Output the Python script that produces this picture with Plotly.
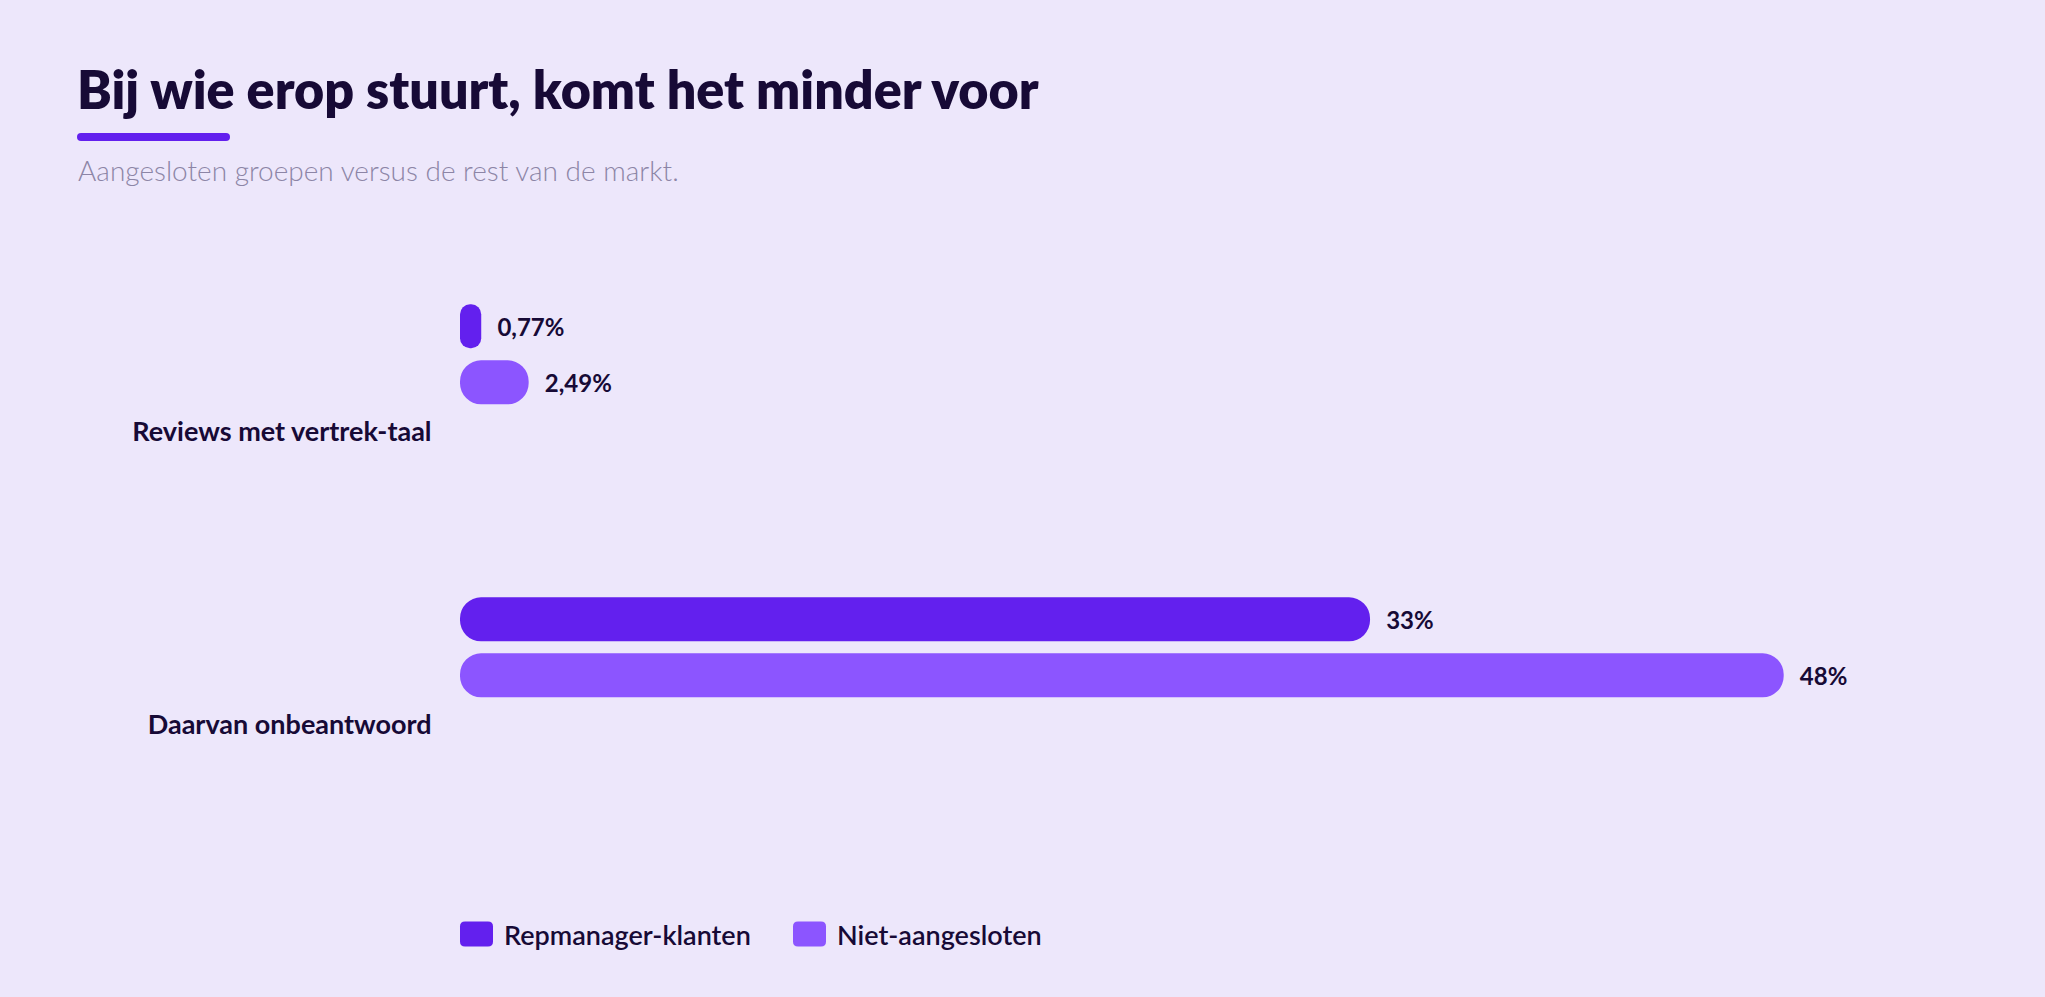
import plotly.graph_objects as go

# ---------------- data ----------------
categories = ["Reviews met vertrek-taal", "Daarvan onbeantwoord"]
series_names = ["Repmanager-klanten", "Niet-aangesloten"]
repmanager = [0.77, 33]
niet_aangesloten = [2.49, 48]
title_text = "Bij wie erop stuurt, komt het minder voor"
subtitle_text = "Aangesloten groepen versus de rest van de markt."

# ---------------- style ----------------
W, H = 2045, 997
BG = "#EDE7FB"
INK = "#170A36"
SUB = "#8C85A6"
COLORS = ["#6320EE", "#8C55FF"]
FONT = "Lato"

ML, MR, MT, MB = 460, 151, 256, 155
PW, PH = W - ML - MR, H - MT - MB
X_MAX = 52
Y_RANGE = [1.4, -0.6]   # reversed category axis
BAR_W = 0.150
OFFSETS = [-0.435, -0.244]


def px_x(px):
    return (px - ML) / PW


def px_y(py):
    return (H - MB - py) / PH


def fmt(v):
    return ("%g" % v).replace(".", ",") + "%"


def pill(w, h, r):
    hh = h / 2
    return (f"M{r},{-hh} H{w - r} Q{w},{-hh} {w},{-hh + r} V{hh - r} "
            f"Q{w},{hh} {w - r},{hh} H{r} Q0,{hh} 0,{hh - r} V{-hh + r} "
            f"Q0,{-hh} {r},{-hh} Z")


fig = go.Figure()
for name, vals, col, off in zip(series_names, [repmanager, niet_aangesloten], COLORS, OFFSETS):
    fig.add_trace(go.Bar(
        y=categories, x=vals, base=[0] * len(vals), orientation="h",
        offset=off, width=BAR_W, name=name,
        marker=dict(color=col, cornerradius="50%", line=dict(width=0)),
        text=["\u00a0\u00a0\u200a" + fmt(v) for v in vals],
        textposition="outside", constraintext="none", cliponaxis=False,
        textfont=dict(family=FONT, size=24, color=INK, weight=700),
        hovertemplate="%{y}<br>" + name + ": %{x}%<extra></extra>",
        showlegend=False,
    ))

shapes = []
annotations = []

# title + underline + subtitle
annotations.append(dict(text=title_text, x=px_x(75), y=px_y(89), xref="paper", yref="paper",
                        xanchor="left", yanchor="middle", showarrow=False,
                        font=dict(family=FONT, size=52, color=INK, weight=800)))
shapes.append(dict(type="path", xref="paper", yref="paper", xsizemode="pixel", ysizemode="pixel",
                   xanchor=px_x(77), yanchor=px_y(137), path=pill(153, 8, 4),
                   fillcolor=COLORS[0], line=dict(width=0)))
annotations.append(dict(text=subtitle_text, x=px_x(76), y=px_y(170), xref="paper", yref="paper",
                        xanchor="left", yanchor="middle", showarrow=False,
                        font=dict(family=FONT, size=28, color=SUB, weight=300)))

# custom legend
legend_x = [460, 793]
for name, col, lx in zip(series_names, COLORS, legend_x):
    shapes.append(dict(type="path", xref="paper", yref="paper", xsizemode="pixel", ysizemode="pixel",
                       xanchor=px_x(lx), yanchor=px_y(934), path=pill(33, 25, 5),
                       fillcolor=col, line=dict(width=0)))
    annotations.append(dict(text=name, x=px_x(lx + 42), y=px_y(934), xref="paper", yref="paper",
                            xanchor="left", yanchor="middle", showarrow=False,
                            font=dict(family=FONT, size=27, color=INK, weight=600)))

fig.update_layout(
    width=W, height=H, autosize=False,
    margin=dict(l=ML, r=MR, t=MT, b=MB, pad=0),
    paper_bgcolor=BG, plot_bgcolor=BG,
    barmode="overlay", showlegend=False,
    font=dict(family=FONT, color=INK),
    shapes=shapes, annotations=annotations,
    xaxis=dict(range=[0, X_MAX], visible=False, fixedrange=True),
    yaxis=dict(type="category", categoryorder="array", categoryarray=categories,
               range=Y_RANGE, autorange=False, showgrid=False, zeroline=False,
               showline=False, ticks="outside", ticklen=22, tickcolor="rgba(0,0,0,0)",
               tickfont=dict(family=FONT, size=27, color=INK, weight=700), fixedrange=True),
)

fig.write_html("out.html", config={"displayModeBar": False})
